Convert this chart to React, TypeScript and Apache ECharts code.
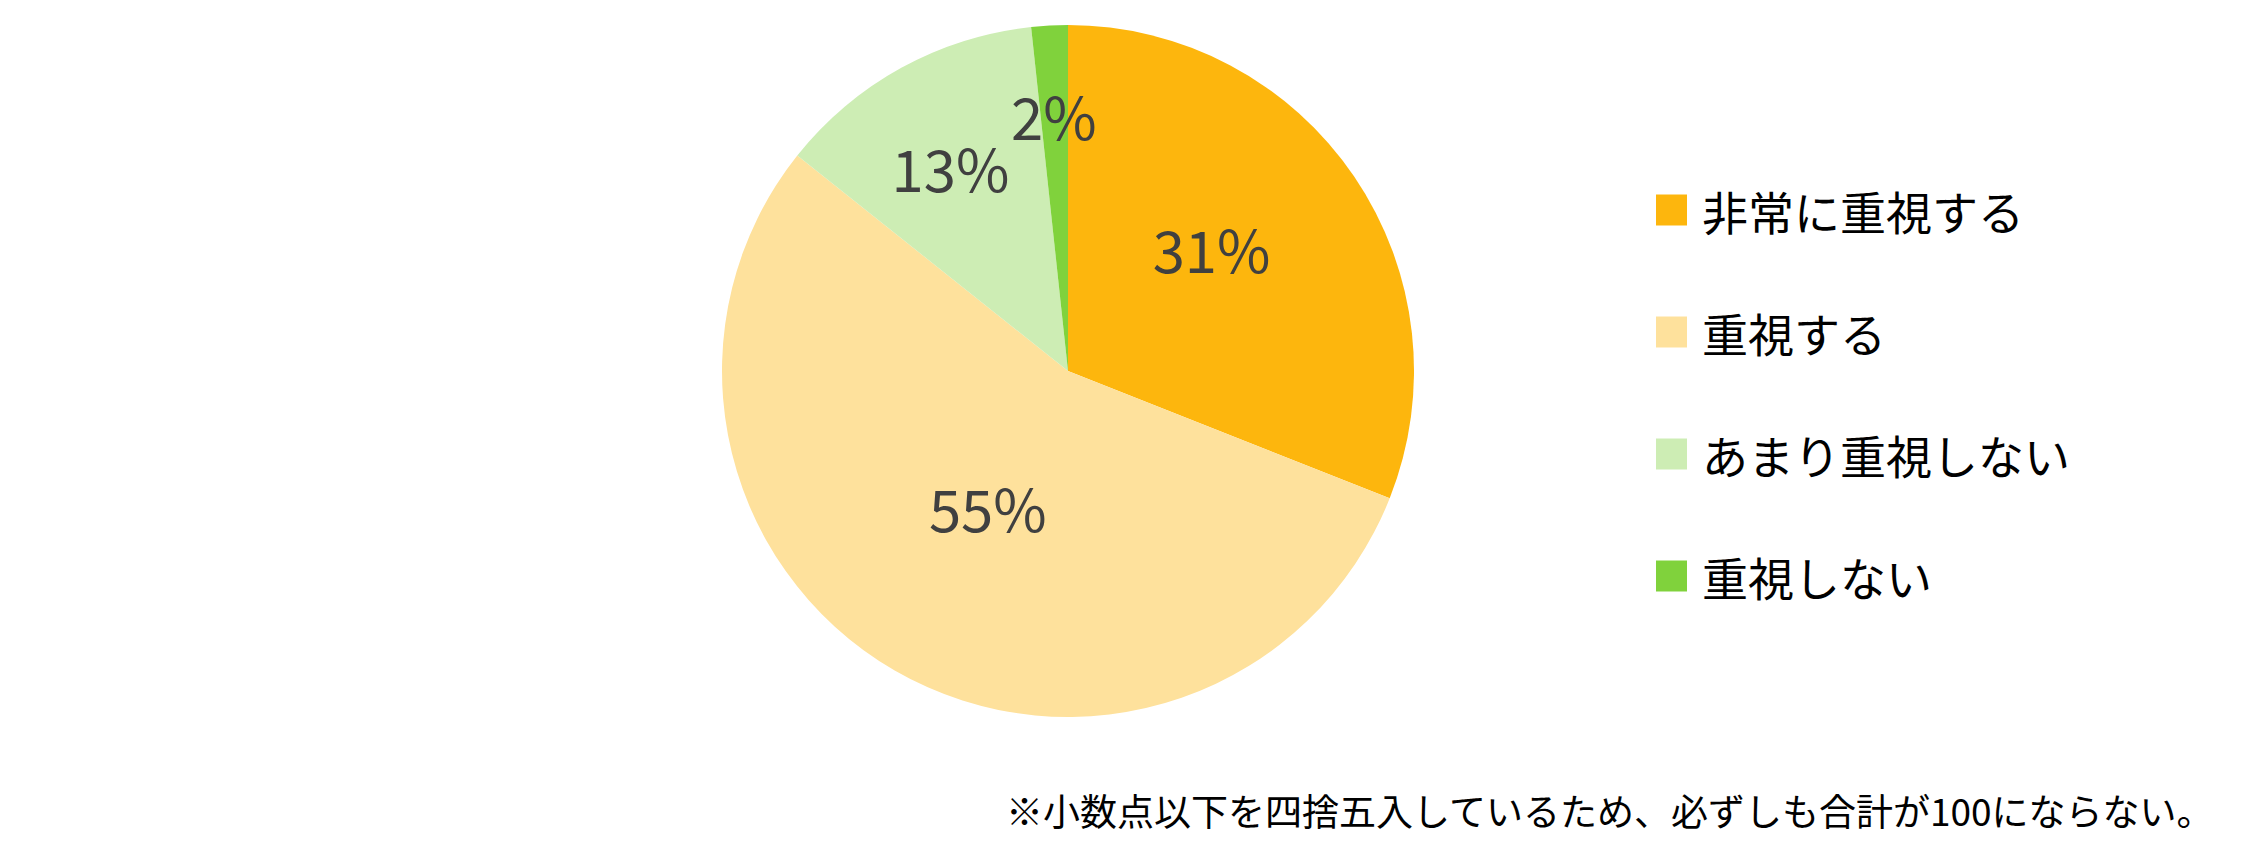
import React, { useEffect, useRef } from 'react';
import * as echarts from 'echarts';

const categories = ['非常に重視する', '重視する', 'あまり重視しない', '重視しない'];
const values = [31.0, 54.7, 12.6, 1.7];
const colors = ['#FDB60D', '#FEE19C', '#CDEDB4', '#80D23C'];
const note = '※小数点以下を四捨五入しているため、必ずしも合計が100にならない。';

// small label nudges so the percentages sit where the original put them
const labelNudge = [
  [-2, -24],
  [8, -16],
  [1, 12],
  [-1, -10]
];

const FONT = '"Noto Sans CJK JP", "Noto Sans", sans-serif';
const CENTER = [1068, 371];

export default function App() {
  const chartRef = useRef<HTMLDivElement>(null);

  useEffect(() => {
    document.body.style.margin = '0';
    if (!chartRef.current) return;

    const myChart = echarts.init(chartRef.current, undefined, { renderer: 'svg' });

    const labelStyle = {
      position: 'inside',
      fontSize: 58,
      fontFamily: FONT,
      color: '#404040',
      formatter: (p: any) => `${Math.round(p.value)}%`
    };

    const nudge = (p: any) => {
      const [dx, dy] = labelNudge[p.dataIndex];
      return { dx, dy };
    };

    const option = {
      animation: false,
      backgroundColor: '#ffffff',
      legend: {
        orient: 'vertical',
        left: 1651,
        top: 182,
        icon: 'rect',
        itemWidth: 31,
        itemHeight: 31,
        itemGap: 76,
        data: categories,
        textStyle: {
          fontSize: 46,
          fontFamily: FONT,
          color: '#000',
          padding: [0, 0, 0, 10]
        }
      },
      graphic: [
        {
          type: 'text',
          left: 1006,
          top: 791,
          style: {
            text: note,
            font: `37px ${FONT}`,
            fill: '#000'
          }
        }
      ],
      series: [
        {
          type: 'pie',
          center: CENTER,
          radius: [0, 346],
          startAngle: 90,
          clockwise: true,
          avoidLabelOverlap: false,
          labelLine: { show: false },
          labelLayout: nudge,
          data: categories.map((name, i) => ({
            name,
            value: values[i],
            itemStyle: { color: colors[i] },
            label: { ...labelStyle, show: i < 2 }
          }))
        },
        {
          // small slices carry their labels nearer the rim
          type: 'pie',
          silent: true,
          center: CENTER,
          radius: [140, 346],
          startAngle: 90,
          clockwise: true,
          avoidLabelOverlap: false,
          labelLine: { show: false },
          labelLayout: nudge,
          data: categories.map((name, i) => ({
            name,
            value: values[i],
            itemStyle: { color: 'rgba(0,0,0,0)' },
            label: { ...labelStyle, show: i >= 2 }
          }))
        }
      ]
    };

    myChart.setOption(option as any);

    return () => {
      myChart.dispose();
    };
  }, []);

  return <div ref={chartRef} style={{ width: '2244px', height: '860px' }} />;
}
